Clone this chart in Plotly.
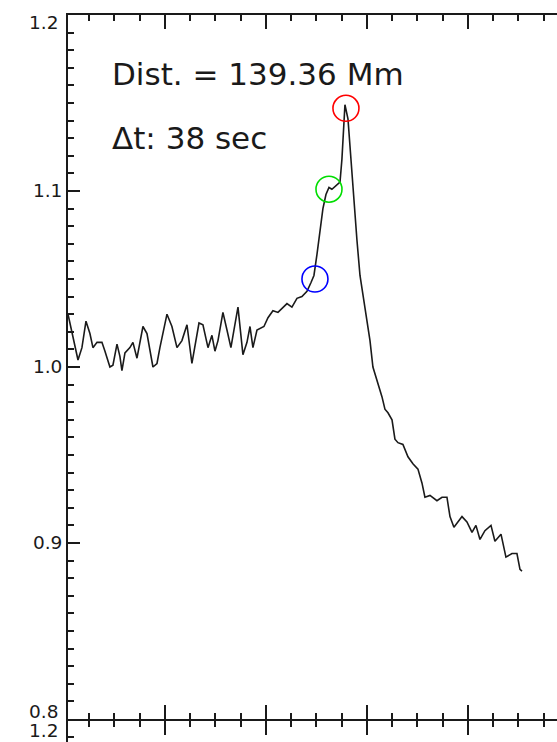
import plotly.graph_objects as go

# time axis (arbitrary units) and normalized intensity
t = [0.40, 0.89, 1.39, 1.78, 2.18, 2.57, 2.87, 3.27, 3.76, 4.06, 4.55, 4.85, 5.25, 5.54, 5.74,
     6.04, 6.53, 6.83, 7.23, 7.82, 8.22, 8.81, 9.21, 9.50, 10.20, 10.69, 11.19, 11.68, 12.18,
     12.67, 12.97, 13.37, 13.76, 14.26, 14.65, 14.95, 15.25, 15.74, 16.14, 16.53, 16.83, 17.23,
     17.72, 18.12, 18.42, 18.71, 19.11, 19.41, 19.80, 20.20, 20.69, 21.19, 22.08, 22.57, 23.07,
     23.56, 24.06, 24.46, 24.75, 25.05, 25.35, 25.64, 25.94, 26.24, 26.53, 26.93, 27.33, 27.52,
     27.72, 27.82, 28.12, 28.42, 28.71, 29.01, 29.31, 29.60, 30.00, 30.30, 30.59, 30.99, 31.49,
     31.78, 32.08, 32.48, 32.77, 33.07, 33.56, 34.06, 34.55, 35.05, 35.45, 35.74, 36.24, 36.93,
     37.43, 37.92, 38.22, 38.61, 39.41, 39.90, 40.40, 40.79, 41.19, 41.68, 42.28, 42.67, 43.27,
     43.76, 44.36, 44.85, 45.15, 45.35]
intensity = [1.030, 1.017, 1.004, 1.011, 1.026, 1.019, 1.011, 1.014, 1.014, 1.009, 1.000, 1.001,
             1.013, 1.006, 0.998, 1.008, 1.011, 1.014, 1.005, 1.023, 1.019, 1.000, 1.002, 1.011,
             1.030, 1.023, 1.011, 1.015, 1.024, 1.002, 1.011, 1.025, 1.024, 1.011, 1.018, 1.009,
             1.015, 1.031, 1.021, 1.011, 1.021, 1.034, 1.007, 1.014, 1.023, 1.011, 1.021, 1.022,
             1.023, 1.028, 1.032, 1.031, 1.036, 1.034, 1.039, 1.040, 1.043, 1.048, 1.052, 1.064,
             1.078, 1.090, 1.098, 1.102, 1.101, 1.103, 1.105, 1.118, 1.141, 1.149, 1.141, 1.118,
             1.092, 1.072, 1.052, 1.041, 1.027, 1.015, 1.000, 0.993, 0.983, 0.976, 0.974, 0.970,
             0.959, 0.957, 0.956, 0.949, 0.945, 0.942, 0.934, 0.926, 0.927, 0.924, 0.926, 0.926,
             0.915, 0.909, 0.915, 0.912, 0.906, 0.910, 0.902, 0.907, 0.910, 0.901, 0.905, 0.892,
             0.894, 0.894, 0.885, 0.884]

# marked times (blue, green, red circles)
mark_t = [24.85, 26.24, 27.92]
mark_val = [1.050, 1.101, 1.147]
mark_colors = ["#0000ff", "#00dd00", "#ff0000"]

y_ticks = [0.8, 0.9, 1.0, 1.1, 1.2]
y_ticktext = ["", "0.9", "1.0", "1.1", ""]

label_text = "Dist. = 139.36 Mm"
dt_text = "\u0394t: 38 sec"

INK = "#1a1a1a"
FONT = "DejaVu Sans"
TICKSIZE = 18.5

fig = go.Figure()
fig.add_trace(go.Scatter(x=t, y=intensity, mode="lines",
                         line=dict(color="#1a1a1a", width=1.6),
                         xaxis="x", yaxis="y", showlegend=False, hoverinfo="skip"))
fig.add_trace(go.Scatter(x=mark_t, y=mark_val, mode="markers",
                         marker=dict(symbol="circle-open", size=26,
                                     color=mark_colors, line=dict(width=1.6, color=mark_colors)),
                         xaxis="x", yaxis="y", showlegend=False, hoverinfo="skip"))
# empty trace for the lower (cut-off) panel
fig.add_trace(go.Scatter(x=[None], y=[None], mode="lines", xaxis="x2", yaxis="y2",
                         showlegend=False, hoverinfo="skip"))

xr = [0.4, 0.4 + 489 / 10.1]
split = 23 / 727

axis_common = dict(showline=True, linecolor=INK, linewidth=2, showgrid=False, zeroline=False,
                   ticks="inside", tickcolor=INK, tickwidth=1.5)

fig.update_layout(
    width=557, height=742,
    margin=dict(l=68, r=0, t=15, b=0),
    paper_bgcolor="white", plot_bgcolor="white",
    font=dict(family=FONT, color=INK),
    xaxis=dict(**axis_common, domain=[0, 1], anchor="y", range=xr, dtick=10, tick0=0,
               ticklen=14, mirror="ticks", showticklabels=False,
               minor=dict(dtick=2.5, tick0=0, ticks="inside", ticklen=6, tickcolor=INK,
                          tickwidth=1.5, showgrid=False)),
    yaxis=dict(**axis_common, domain=[split, 1], anchor="x", range=[0.8, 1.2],
               tickmode="array", tickvals=y_ticks, ticktext=y_ticktext, ticklen=12,
               tickfont=dict(size=TICKSIZE, family=FONT, color=INK),
               minor=dict(dtick=0.01, tick0=0.8, ticks="inside", ticklen=6, tickcolor=INK,
                          tickwidth=1.5, showgrid=False)),
    xaxis2=dict(showline=False, showgrid=False, zeroline=False, ticks="inside",
                tickcolor=INK, tickwidth=1.5,
                domain=[0, 1], anchor="y2", side="top", range=xr, dtick=10,
                tick0=0, ticklen=16, showticklabels=False,
                minor=dict(dtick=2.5, tick0=0, ticks="inside", ticklen=8, tickcolor=INK,
                           tickwidth=1.5, showgrid=False)),
    yaxis2=dict(**axis_common, domain=[0, split], anchor="x2",
                range=[1.2 - 23 * 0.4 / 704, 1.2], tickvals=[1.2], ticklen=12,
                showticklabels=False,
                minor=dict(dtick=0.01, tick0=0.8, ticks="inside", ticklen=6, tickcolor=INK,
                           tickwidth=1.5, showgrid=False)),
    annotations=[
        dict(text=label_text, xref="x domain", yref="y domain", x=42 / 489, y=(719 - 74) / 704,
             xanchor="left", yanchor="middle", showarrow=False,
             font=dict(size=31, family=FONT, color=INK)),
        dict(text=dt_text, xref="x domain", yref="y domain", x=42 / 489, y=(719 - 138) / 704,
             xanchor="left", yanchor="middle", showarrow=False,
             font=dict(size=31, family=FONT, color=INK)),
        dict(text="1.2", xref="x domain", yref="y", x=0, y=1.2, xshift=-8, yshift=-7,
             xanchor="right", yanchor="middle", showarrow=False,
             font=dict(size=TICKSIZE, family=FONT, color=INK)),
        dict(text="0.8", xref="x domain", yref="y", x=0, y=0.8, xshift=-8, yshift=8,
             xanchor="right", yanchor="middle", showarrow=False,
             font=dict(size=TICKSIZE, family=FONT, color=INK)),
        dict(text="1.2", xref="x2 domain", yref="y2", x=0, y=1.2, xshift=-8, yshift=-11,
             xanchor="right", yanchor="middle", showarrow=False,
             font=dict(size=TICKSIZE, family=FONT, color=INK)),
    ],
)

fig.write_html("out.html")
